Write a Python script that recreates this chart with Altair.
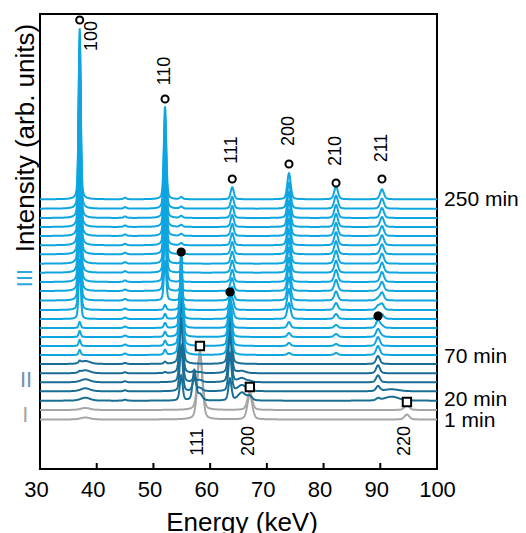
import numpy as np
import pandas as pd
import altair as alt

alt.data_transformers.disable_max_rows()

# ---------------- data ----------------
# 25 stacked traces: 2 grey (I), 5 dark blue (II), 18 light blue (III)
trace_group = ["I"] * 2 + ["II"] * 5 + ["III"] * 18
# vertical offset of each trace baseline (arb. units)
trace_offset = [49.5, 59, 68.3, 77.7, 86.7, 95.7, 105, 114, 123, 132, 141, 150, 159,
                168.5, 178, 187, 196.3, 205.3, 214.7, 223.7, 233, 242, 251, 260.3, 269.7]

# peak positions (keV) and half widths (keV)
peak_pos = {"A": 37.0, "B": 52.05, "C": 63.9, "D": 73.9, "E": 82.2, "F": 90.3,
            "G": 54.9, "H": 63.5, "I": 89.6, "J": 58.2, "K": 67.0, "L": 94.7,
            "M": 38.0, "N": 45.0, "J2": 57.2, "K2": 65.6, "I2": 92.0}
peak_hw = {"A": 0.22, "B": 0.25, "C": 0.33, "D": 0.35, "E": 0.38, "F": 0.4,
           "G": 0.3, "H": 0.32, "I": 0.4, "J": 0.5, "K": 0.5, "L": 0.5,
           "M": 1.0, "N": 0.3, "J2": 0.35, "K2": 0.8, "I2": 1.5}
# peak heights per trace (bottom trace first)
peak_height = {
    "A": [0, 0, 0, 0, 0, 1, 2, 5, 6, 6, 6, 60, 95, 120, 140, 150, 155, 160, 163, 165, 167, 168, 169, 170, 171],
    "M": [2, 2, 3, 3, 3, 3, 3, 0, 0, 0, 0, 0, 0, 0, 0, 0, 0, 0, 0, 0, 0, 0, 0, 0, 0],
    "B": [0, 0, 0, 0, 0, 1, 2, 5, 5, 5, 5, 5, 5, 40, 60, 72, 78, 83, 86, 88, 90, 91, 92, 93, 93],
    "C": [0, 0, 0, 0, 0, 0, 0, 0, 0, 0, 0, 8, 10, 12, 12, 12, 12, 12, 12, 12, 12, 12, 12, 12, 12],
    "H": [0, 0, 22, 38, 50, 60, 66, 62, 48, 35, 24, 14, 8, 4, 2, 0, 0, 0, 0, 0, 0, 0, 0, 0, 0],
    "G": [0, 0, 25, 45, 65, 80, 95, 103, 92, 72, 52, 34, 20, 10, 5, 3, 2, 2, 2, 2, 2, 2, 2, 2, 2],
    "D": [0, 0, 0, 0, 0, 0, 0, 2, 3, 4, 6, 16, 21, 23, 24, 24, 25, 25, 25, 26, 26, 26, 26, 26, 26],
    "E": [0, 0, 0, 0, 0, 0, 0, 2, 2, 3, 3, 5, 7, 9, 11, 12, 12, 13, 13, 13, 13, 13, 13, 13, 13],
    "F": [0, 0, 0, 0, 0, 0, 0, 0, 0, 1, 2, 4, 6, 8, 9, 10, 10, 10, 10, 10, 10, 10, 10, 10, 10],
    "I": [0, 0, 2, 5, 7, 8, 8, 9, 9, 8, 8, 6, 4, 2, 1, 0, 0, 0, 0, 0, 0, 0, 0, 0, 0],
    "J": [67, 58, 6, 3, 2, 1, 0, 0, 0, 0, 0, 0, 0, 0, 0, 0, 0, 0, 0, 0, 0, 0, 0, 0, 0],
    "J2": [0, 0, 30, 12, 5, 2, 0, 0, 0, 0, 0, 0, 0, 0, 0, 0, 0, 0, 0, 0, 0, 0, 0, 0, 0],
    "K": [25, 18, 4, 2, 1, 0, 0, 0, 0, 0, 0, 0, 0, 0, 0, 0, 0, 0, 0, 0, 0, 0, 0, 0, 0],
    "K2": [0, 0, 8, 6, 4, 2, 0, 0, 0, 0, 0, 0, 0, 0, 0, 0, 0, 0, 0, 0, 0, 0, 0, 0, 0],
    "L": [5, 5, 0, 0, 0, 0, 0, 0, 0, 0, 0, 0, 0, 0, 0, 0, 0, 0, 0, 0, 0, 0, 0, 0, 0],
    "I2": [0, 0, 4, 2, 0, 0, 0, 0, 0, 0, 0, 0, 0, 0, 0, 0, 0, 0, 0, 0, 0, 0, 0, 0, 0],
    "N": [0, 0, 1, 1, 1, 1, 1, 1.5, 1.5, 1.5, 1.5, 1.5, 1.5, 1.5, 1.5, 1.5, 1.5, 1.5, 1.5, 1.5, 1.5, 1.5, 1.5, 1.5, 1.5],
}

# markers
open_circle_e = [37.0, 52.05, 63.9, 73.9, 82.2, 90.3]
open_circle_i = [449, 370, 290, 305, 286, 290]
filled_circle_e = [54.9, 63.5, 89.6]
filled_circle_i = [217, 177, 153]
square_e = [58.2, 67.0, 94.7]
square_i = [123, 82, 67]

# hkl labels
hkl_text = ["100", "110", "111", "200", "210", "211", "111", "200", "220"]
hkl_e = [39.17, 52.05, 63.86, 73.9, 82.2, 90.3, 57.86, 66.85, 94.36]
hkl_i = [433, 398, 319, 338, 318, 321, 27, 28, 28]

# time labels on the right
time_text = ["250 min", "70 min", "20 min", "1 min"]
time_e = [101.25, 101.25, 101.25, 101.25]
time_i = [263, 106, 63, 42]

# group labels on the left
grp_text = ["III", "II", "I"]
grp_e = [27.4, 27.55, 27.4]
grp_i = [191, 89.5, 54]

x_tick_values = [30, 40, 50, 60, 70, 80, 90, 100]
inner_ticks = [40, 50, 60, 70, 80, 90]

group_colors = {"I": "#a6a6a6", "II": "#1a6e96", "III": "#0ea5e0"}

# ---------------- build table ----------------
energy = np.round(np.arange(30, 100.0001, 0.05), 2)
eta = 0.35
frames = []
for t in range(len(trace_offset)):
    y = np.full(energy.shape, float(trace_offset[t]))
    for name, c in peak_pos.items():
        h = peak_height[name][t]
        if h:
            u = ((energy - c) / peak_hw[name]) ** 2
            y = y + h * (eta / (1 + u) + (1 - eta) * np.exp(-np.log(2) * u))
    frames.append(pd.DataFrame({"energy": energy, "intensity": np.round(y, 2),
                                "trace": f"t{t:02d}", "group": trace_group[t]}))
spectra = pd.concat(frames, ignore_index=True)

FONT = "Liberation Sans"
xscale = alt.Scale(domain=[30, 100], nice=False, zero=False)
yscale = alt.Scale(domain=[0, 455], nice=False, zero=False)

x_axis = alt.Axis(values=x_tick_values, title="Energy (keV)", labelFontSize=22, labelFont=FONT,
                  labelColor="black", ticks=False, tickSize=0, domain=False, grid=False,
                  labelPadding=10, labelFlush=False,
                  labelOffset={"condition": {"test": "datum.value < 100", "value": -4}, "value": 0},
                  titleFont=FONT, titleFontSize=26, titleFontWeight="normal", titleColor="black",
                  titleX=201.5, titleY=61, titleAlign="center", titleBaseline="alphabetic")
y_axis = alt.Axis(title="Intensity (arb. units)", labels=False, ticks=False, domain=False, grid=False,
                  titleFont=FONT, titleFontSize=26, titleFontWeight="normal", titleColor="black",
                  titleAngle=270, titleX=-7, titleY=123.5, titleAlign="center", titleBaseline="alphabetic")

lines = alt.Chart(spectra).mark_line(strokeWidth=2, clip=True).encode(
    x=alt.X("energy:Q", scale=xscale, axis=x_axis),
    y=alt.Y("intensity:Q", scale=yscale, axis=y_axis),
    color=alt.Color("group:N", scale=alt.Scale(domain=list(group_colors.keys()),
                                              range=list(group_colors.values())), legend=None),
    detail="trace:N",
)

ticks = alt.Chart(pd.DataFrame({"e": inner_ticks})).mark_rule(color="black", strokeWidth=2).encode(
    x="e:Q", y=alt.datum(0), y2=alt.datum(6))

oc = alt.Chart(pd.DataFrame({"e": open_circle_e, "i": open_circle_i})).mark_point(
    shape="circle", filled=True, fill="white", stroke="black", strokeWidth=2, size=50, opacity=1
).encode(x="e:Q", y="i:Q")
fc = alt.Chart(pd.DataFrame({"e": filled_circle_e, "i": filled_circle_i})).mark_point(
    shape="circle", filled=True, color="black", size=85, opacity=1
).encode(x="e:Q", y="i:Q")
sq = alt.Chart(pd.DataFrame({"e": square_e, "i": square_i})).mark_point(
    shape="square", filled=True, fill="white", stroke="black", strokeWidth=2, size=70, opacity=1
).encode(x="e:Q", y="i:Q")

hkl = alt.Chart(pd.DataFrame({"e": hkl_e, "i": hkl_i, "t": hkl_text})).mark_text(
    angle=270, font=FONT, fontSize=18, align="center", baseline="middle", color="black"
).encode(x="e:Q", y="i:Q", text="t:N")

times = alt.Chart(pd.DataFrame({"e": time_e, "i": time_i, "t": time_text})).mark_text(
    font=FONT, fontSize=21, align="left", baseline="alphabetic", color="black", clip=False
).encode(x="e:Q", y="i:Q", text="t:N")

grp_df = pd.DataFrame({"e": grp_e, "i": grp_i, "t": grp_text})
grp_rot = alt.Chart(grp_df[grp_df.t == "III"]).mark_text(
    angle=270, font=FONT, fontSize=22, align="center", baseline="middle", color="#29a9e0"
).encode(x="e:Q", y="i:Q", text="t:N")
grp_up = alt.Chart(grp_df[grp_df.t != "III"]).mark_text(
    font=FONT, fontSize=22, align="center", baseline="middle"
).encode(x="e:Q", y="i:Q", text="t:N",
         color=alt.Color("t:N", scale=alt.Scale(domain=["II", "I"], range=["#6a93b3", "#a6a6a6"]),
                         legend=None))

chart = alt.layer(lines, ticks, sq, oc, fc, hkl, times, grp_rot, grp_up).resolve_scale(
    color="independent"
).properties(
    width=397, height=455,
    padding={"left": 32, "top": 6, "right": 81, "bottom": 64},
    autosize=alt.AutoSizeParams(type="none"),
    background="white",
).configure_view(stroke="black", strokeWidth=2)

chart.save("out.html", embed_options={"renderer": "svg", "actions": False})
